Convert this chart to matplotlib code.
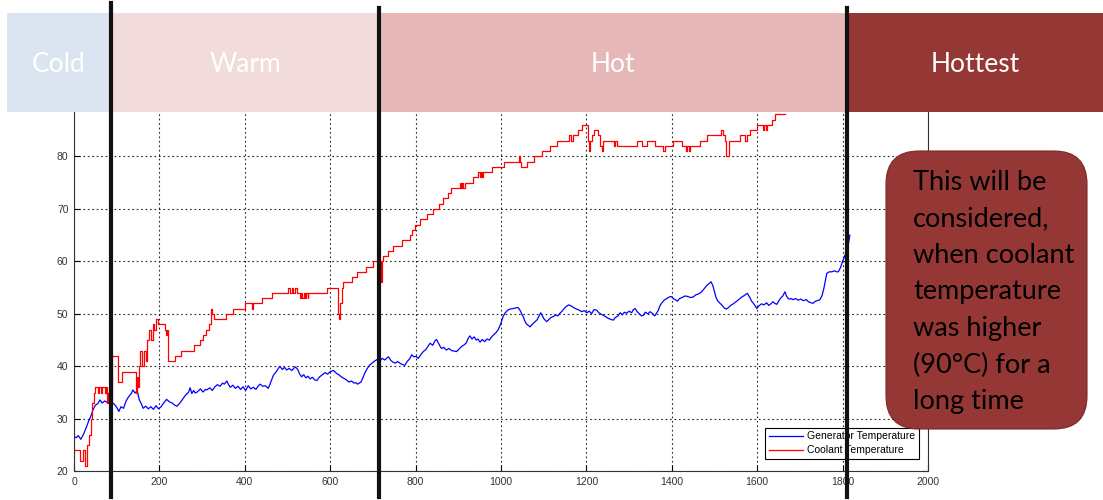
import matplotlib
matplotlib.use('Agg')
import matplotlib.pyplot as plt
from matplotlib.patches import Rectangle, FancyBboxPatch
from matplotlib.lines import Line2D
from matplotlib import transforms

# generator temperature (blue)
gen_time = [0, 5, 10, 16, 22, 28, 34, 40, 45, 50, 56, 61, 66, 72, 78, 84, 88, 94, 100, 105,
            110, 116, 122, 128, 134, 138, 143, 148, 153, 158, 162, 168, 174, 180, 186, 192, 198, 204, 210, 217,
            224, 230, 236, 241, 248, 255, 262, 268, 272, 276, 280, 284, 290, 296, 302, 308, 311, 318, 324, 330,
            336, 342, 348, 352, 358, 362, 366, 372, 378, 384, 390, 396, 402, 408, 414, 420, 426, 432, 436, 442,
            448, 455, 460, 467, 472, 477, 482, 488, 493, 498, 504, 510, 518, 524, 528, 533, 538, 543, 548, 553,
            558, 564, 569, 574, 580, 588, 594, 600, 608, 614, 620, 626, 632, 638, 644, 650, 656, 660, 664, 668,
            672, 677, 682, 687, 692, 698, 704, 710, 716, 722, 728, 733, 737, 742, 747, 752, 758, 765, 770, 775,
            780, 786, 791, 796, 801, 806, 812, 818, 824, 830, 834, 840, 845, 849, 854, 858, 861, 866, 872, 878,
            884, 890, 896, 902, 908, 914, 919, 923, 927, 932, 937, 942, 946, 951, 956, 962, 967, 973, 978, 983,
            988, 993, 999, 1005, 1010, 1016, 1021, 1028, 1034, 1040, 1045, 1049, 1052, 1056, 1060, 1064, 1068, 1072, 1077, 1081,
            1084, 1088, 1093, 1097, 1101, 1107, 1112, 1117, 1123, 1128, 1133, 1138, 1144, 1150, 1158, 1164, 1170, 1177, 1183, 1189,
            1195, 1201, 1207, 1212, 1218, 1224, 1229, 1235, 1240, 1246, 1252, 1258, 1263, 1268, 1274, 1279, 1284, 1289, 1294, 1300,
            1306, 1310, 1314, 1319, 1324, 1329, 1333, 1338, 1344, 1349, 1354, 1360, 1364, 1368, 1372, 1376, 1382, 1388, 1394, 1399,
            1405, 1410, 1413, 1418, 1424, 1431, 1437, 1444, 1450, 1456, 1463, 1470, 1476, 1482, 1488, 1492, 1496, 1500, 1504, 1508,
            1513, 1518, 1523, 1528, 1533, 1538, 1544, 1549, 1552, 1558, 1564, 1570, 1577, 1582, 1587, 1593, 1599, 1604, 1610, 1616,
            1622, 1627, 1632, 1637, 1641, 1646, 1650, 1655, 1660, 1665, 1669, 1674, 1679, 1684, 1690, 1696, 1702, 1708, 1715, 1720,
            1726, 1731, 1736, 1741, 1747, 1752, 1756, 1760, 1763, 1769, 1775, 1781, 1786, 1790, 1795, 1800, 1806, 1812, 1817]
gen_temp = [26.6, 26.4, 26.8, 26.1, 27.0, 28.2, 29.5, 30.6, 31.8, 32.6, 32.9, 33.6, 33.0, 33.4, 33.1, 34.0, 33.2, 32.8, 32.2, 31.4,
            32.3, 32.0, 33.4, 34.2, 34.8, 35.5, 34.9, 35.3, 33.6, 32.8, 32.0, 32.4, 31.9, 32.3, 31.8, 32.5, 31.9, 32.3, 33.0, 33.7,
            33.2, 33.0, 32.6, 32.4, 33.0, 33.8, 34.6, 35.0, 35.9, 34.8, 35.4, 34.9, 35.2, 35.7, 35.1, 35.6, 35.5, 35.9, 35.4, 36.1,
            36.5, 36.2, 36.8, 36.6, 37.2, 36.5, 36.0, 36.4, 35.8, 36.2, 35.6, 36.1, 35.4, 36.3, 35.7, 36.0, 35.6, 36.3, 36.6, 36.2,
            36.3, 35.8, 36.8, 38.3, 38.8, 39.4, 40.0, 39.4, 39.8, 39.3, 39.6, 39.2, 39.9, 39.4, 38.6, 38.0, 38.4, 37.8, 38.1, 37.6,
            37.9, 37.4, 37.3, 37.9, 38.3, 38.8, 38.5, 39.0, 39.2, 38.7, 38.4, 38.0, 37.7, 37.4, 37.0, 37.2, 36.8, 36.9, 36.6, 36.8,
            37.0, 37.9, 38.9, 39.6, 40.2, 40.6, 41.0, 41.3, 41.0, 41.5, 41.2, 41.6, 41.8, 41.1, 40.8, 40.6, 40.9, 40.5, 40.3, 40.2,
            40.9, 41.4, 42.2, 41.8, 41.9, 41.5, 42.2, 42.8, 43.2, 43.9, 44.4, 44.0, 44.8, 45.1, 44.3, 43.7, 43.4, 43.6, 43.1, 43.4,
            43.0, 42.9, 42.8, 43.3, 43.8, 44.1, 44.5, 45.3, 45.8, 45.2, 45.6, 45.0, 45.2, 44.6, 45.1, 44.7, 45.2, 45.0, 45.6, 46.0,
            46.4, 46.9, 48.0, 49.5, 50.2, 50.7, 50.9, 51.0, 51.1, 51.2, 50.6, 49.9, 49.5, 48.6, 48.0, 47.8, 47.5, 47.9, 48.3, 48.6,
            48.8, 49.4, 50.2, 49.6, 49.0, 48.5, 48.9, 49.3, 49.5, 49.8, 49.6, 50.1, 50.6, 51.2, 51.7, 51.5, 51.2, 50.9, 50.7, 50.4,
            50.6, 50.2, 50.5, 50.0, 50.8, 50.7, 50.2, 49.9, 49.7, 49.4, 49.1, 48.9, 48.8, 49.3, 49.6, 50.2, 49.8, 50.3, 50.1, 50.5,
            50.2, 50.8, 51.0, 50.4, 50.0, 49.6, 49.7, 50.3, 50.0, 50.4, 50.1, 49.6, 50.1, 50.6, 51.5, 52.0, 52.6, 52.9, 53.2, 53.3,
            52.8, 52.6, 52.4, 52.9, 53.1, 53.4, 53.3, 53.1, 53.2, 53.6, 53.8, 54.2, 54.8, 55.4, 55.8, 56.1, 55.4, 54.2, 53.0, 52.4,
            52.0, 51.6, 51.1, 50.9, 51.2, 51.6, 51.9, 52.2, 52.4, 52.8, 53.2, 53.5, 53.9, 53.2, 52.4, 51.8, 51.0, 51.5, 51.9, 51.7,
            52.1, 51.6, 51.9, 52.3, 52.0, 51.8, 52.4, 53.0, 53.4, 54.2, 53.3, 52.8, 52.9, 52.7, 52.9, 52.6, 52.8, 52.5, 52.7, 52.3,
            52.1, 52.0, 52.4, 52.5, 52.7, 53.5, 54.8, 56.5, 57.7, 58.0, 58.0, 58.2, 58.0, 58.0, 58.8, 60.0, 61.2, 62.5, 65.0]

# coolant temperature (red), value changes
cool_time = [0, 15, 20, 26, 31, 36, 40, 43, 46, 50, 56, 58, 64, 66, 72, 74, 78, 80, 82, 84,
             86, 88, 102, 112, 146, 148, 150, 152, 155, 160, 164, 168, 172, 176, 180, 184, 188, 192, 196, 200,
             212, 215, 218, 221, 236, 250, 280, 294, 303, 309, 315, 320, 324, 329, 356, 373, 400, 417, 419, 440,
             463, 502, 506, 510, 514, 518, 522, 529, 532, 535, 538, 541, 544, 547, 549, 592, 619, 621, 624, 627,
             631, 650, 662, 685, 701, 718, 721, 724, 736, 748, 767, 787, 791, 798, 810, 826, 841, 855, 865, 876,
             884, 904, 906, 909, 912, 915, 918, 935, 947, 950, 953, 956, 959, 978, 1006, 1041, 1044, 1047, 1060, 1077,
             1095, 1115, 1130, 1160, 1165, 1169, 1181, 1189, 1201, 1203, 1206, 1209, 1214, 1218, 1225, 1228, 1232, 1236, 1240, 1265,
             1268, 1271, 1318, 1330, 1341, 1360, 1380, 1384, 1403, 1423, 1433, 1436, 1440, 1443, 1466, 1482, 1515, 1519, 1525, 1528,
             1533, 1560, 1572, 1576, 1583, 1599, 1614, 1617, 1620, 1623, 1634, 1642, 1665]
cool_temp = [24, 22, 24, 21, 25, 27, 30, 33, 35, 36, 35, 36, 35, 36, 35, 36, 33, 35, 33, 35,
             33, 42, 37, 39, 35, 38, 36, 40, 43, 40, 43, 41, 45, 47, 45, 48, 47, 49, 48, 48,
             47, 46, 47, 41, 42, 43, 44, 45, 46, 47, 48, 51, 50, 49, 50, 51, 52, 51, 52, 53,
             54, 55, 54, 55, 54, 55, 54, 53, 54, 53, 54, 53, 54, 53, 54, 55, 50, 49, 52, 55,
             56, 57, 58, 59, 60, 56, 60, 61, 62, 63, 64, 65, 66, 67, 68, 69, 70, 71, 72, 73,
             74, 75, 74, 75, 74, 75, 75, 76, 77, 76, 77, 76, 77, 78, 79, 80, 79, 78, 79, 80,
             81, 82, 83, 84, 83, 84, 85, 86, 86, 83, 81, 83, 84, 85, 85, 84, 82, 81, 83, 82,
             83, 82, 83, 82, 83, 82, 81, 82, 83, 82, 81, 82, 81, 82, 83, 84, 85, 84, 83, 80,
             83, 84, 83, 84, 85, 86, 85, 86, 85, 86, 87, 88, 88]

zones = ['Cold', 'Warm', 'Hot', 'Hottest']
zone_edges = [-157, 87, 715, 1811, 2411]
zone_colors = ['#DBE5F1', '#F2DCDB', '#E6B9B8', '#953735']

note = 'This will be\nconsidered,\nwhen coolant\ntemperature\nwas higher\n(90°C) for a\nlong time'

W, H = 1103, 500
fig = plt.figure(figsize=(W / 100, H / 100), dpi=100)
ax = fig.add_axes([74 / W, 1 - 471.3 / H, (928 - 74) / W, (471.3 - 103.8) / H])

ax.plot(gen_time, gen_temp, color='#0000FF', lw=0.9, label='Generator Temperature')
ax.plot(cool_time, cool_temp, color='#FF0000', lw=0.9, drawstyle='steps-post', label='Coolant Temperature')

ax.set_xlim(0, 2000)
ax.set_ylim(20, 90)
ax.set_xticks(range(0, 2001, 200))
ax.set_yticks(range(20, 91, 10))
ax.grid(True, color='#222222', linestyle=(0, (1.5, 2.5)), lw=0.8)
ax.tick_params(direction='in', length=4, width=0.8, top=True, right=True,
               labelsize=7.5, labelcolor='#333333', pad=4)
for lab in ax.get_xticklabels() + ax.get_yticklabels():
    lab.set_family('Liberation Sans')
for sp in ax.spines.values():
    sp.set_color('#333333')
    sp.set_linewidth(0.8)

leg = ax.legend(loc='lower right', bbox_to_anchor=(0.9895, 0.0335), borderaxespad=0,
                fancybox=False, edgecolor='black', framealpha=1,
                prop={'family': 'Liberation Sans', 'size': 7.5},
                handlelength=3.3, handletextpad=0.4, labelspacing=0.4, borderpad=0.35)
leg.get_frame().set_linewidth(0.8)

# zone banner across the top (x in data, y in figure)
blend = transforms.blended_transform_factory(ax.transData, fig.transFigure)
for name, x0, x1, c in zip(zones, zone_edges[:-1], zone_edges[1:], zone_colors):
    fig.add_artist(Rectangle((x0, 1 - 112 / H), x1 - x0, 99 / H, transform=blend,
                             facecolor=c, edgecolor='none', zorder=2))
    fig.text((x0 + x1) / 2, 1 - 65 / H, name, transform=blend, ha='center', va='center',
             color='white', fontsize=19, family='Lato', zorder=3)

# thick zone boundaries
for i, x in enumerate(zone_edges[1:-1]):
    top = 1 - 3 / H if i == 0 else 1 - 8 / H
    fig.add_artist(Line2D([x, x], [3 / H, top], transform=blend, color='#111111', lw=3, zorder=4))

# callout
inch = fig.dpi_scale_trans
fig.add_artist(FancyBboxPatch((8.86 + 0.33, (H - 429) / 100 + 0.33), 2.01 - 0.66, 2.78 - 0.66,
                              boxstyle='round,pad=0.33', transform=inch,
                              facecolor='#953735', edgecolor='#7a2a28', lw=0.8, zorder=5))
fig.text(9.13, (H - 292) / 100, note, transform=inch, ha='left', va='center',
         fontsize=19.5, family='Lato', color='black', linespacing=1.58, zorder=6)

fig.savefig('out.png', dpi=100)
